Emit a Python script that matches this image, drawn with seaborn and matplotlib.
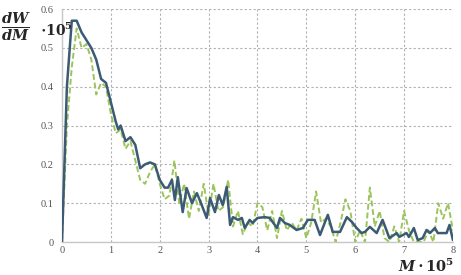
import matplotlib
matplotlib.use("Agg")
import matplotlib.pyplot as plt
import seaborn as sns
import pandas as pd

# Solid (dark) series
solid_x = [0, 0.1, 0.2, 0.3, 0.4, 0.5, 0.6, 0.7, 0.8, 0.9, 1.0, 1.1, 1.15, 1.2, 1.3, 1.4, 1.5,
           1.6, 1.7, 1.8, 1.9, 2.0, 2.1, 2.17, 2.25, 2.31, 2.37, 2.47, 2.55, 2.66, 2.76, 2.86,
           2.96, 3.03, 3.13, 3.21, 3.29, 3.37, 3.44, 3.5, 3.6, 3.68, 3.74, 3.84, 3.9, 4.0, 4.15,
           4.25, 4.4, 4.46, 4.56, 4.66, 4.8, 4.93, 5.03, 5.17, 5.28, 5.44, 5.54, 5.69, 5.83,
           5.93, 6.03, 6.13, 6.2, 6.3, 6.44, 6.56, 6.7, 6.85, 6.9, 7.05, 7.1, 7.2, 7.28, 7.38,
           7.46, 7.53, 7.63, 7.69, 7.87, 7.93, 8.0]
solid_y = [0, 0.40, 0.57, 0.57, 0.54, 0.52, 0.50, 0.47, 0.42, 0.41, 0.36, 0.31, 0.29, 0.30,
           0.26, 0.27, 0.25, 0.19, 0.20, 0.205, 0.20, 0.16, 0.14, 0.14, 0.16, 0.108, 0.167,
           0.077, 0.139, 0.10, 0.126, 0.095, 0.062, 0.113, 0.077, 0.121, 0.095, 0.142, 0.044,
           0.064, 0.057, 0.062, 0.036, 0.057, 0.049, 0.062, 0.064, 0.062, 0.036, 0.062, 0.049,
           0.044, 0.031, 0.036, 0.057, 0.057, 0.018, 0.07, 0.026, 0.026, 0.064, 0.052, 0.036,
           0.023, 0.026, 0.039, 0.023, 0.057, 0.01, 0.023, 0.013, 0.023, 0.013, 0.036, 0.005,
           0.01, 0.031, 0.023, 0.036, 0.023, 0.023, 0.044, 0.005]

# Dashed (green) series
dash_x = [round(i * 0.1, 1) for i in range(81)]
dash_y = [0, 0.30, 0.45, 0.55, 0.50, 0.51, 0.47, 0.38, 0.41, 0.40, 0.33, 0.28, 0.29, 0.24,
          0.26, 0.21, 0.16, 0.15, 0.18, 0.20, 0.15, 0.11, 0.12, 0.21, 0.10, 0.15, 0.06, 0.13,
          0.08, 0.15, 0.07, 0.15, 0.08, 0.09, 0.16, 0.04, 0.08, 0.02, 0.05, 0.04, 0.10, 0.09,
          0.03, 0.08, 0.01, 0.08, 0.03, 0.05, 0.03, 0.06, 0.01, 0.05, 0.13, 0.05, 0.06, 0.04,
          0.0, 0.05, 0.11, 0.08, 0.0, 0.03, 0.0, 0.14, 0.04, 0.08, 0.01, 0.0, 0.04, 0.0, 0.08,
          0.03, 0.0, 0.0, 0.0, 0.03, 0.0, 0.10, 0.06, 0.10, 0.03]

x_ticks = [0, 1, 2, 3, 4, 5, 6, 7, 8]
y_ticks = [0, 0.1, 0.2, 0.3, 0.4, 0.5, 0.6]
y_tick_labels = ["0", "0.1", "0.2", "0.3", "0.4", "0.5", "0.6"]

sns.set_style("white")
plt.rcParams["font.family"] = ["Liberation Serif", "DejaVu Serif"]
plt.rcParams["mathtext.fontset"] = "dejavuserif"

fig = plt.figure(figsize=(4.61, 2.75), dpi=100)
ax = fig.add_axes([0.1345, 0.12, 0.848, 0.847])

df_s = pd.DataFrame({"x": solid_x, "y": solid_y})
df_d = pd.DataFrame({"x": dash_x, "y": dash_y})

sns.lineplot(data=df_d, x="x", y="y", ax=ax, color="#9cc45c", linewidth=1.4,
             linestyle=(0, (3, 1.5)), zorder=3)
sns.lineplot(data=df_s, x="x", y="y", ax=ax, color="#3b5a74", linewidth=1.8, zorder=4)

ax.set_xlim(0, 8)
ax.set_ylim(0, 0.6)
ax.set_xticks(x_ticks)
ax.set_xticklabels([str(t) for t in x_ticks])
ax.set_yticks(y_ticks)
ax.set_yticklabels(y_tick_labels)
ax.set_xlabel("")
ax.set_ylabel("")
ax.grid(True, color="#b0b0b0", linestyle=(0, (2, 2)), linewidth=0.8)
ax.tick_params(axis="both", labelsize=7.5, colors="#555555", length=0)
ax.tick_params(axis="x", pad=3)
ax.tick_params(axis="y", pad=6)
for s in ["top", "right"]:
    ax.spines[s].set_visible(False)
for s in ["left", "bottom"]:
    ax.spines[s].set_color("#c8c8c8")
    ax.spines[s].set_linewidth(1.0)

fig.text(0.003, 0.905, r"$\frac{\boldsymbol{dW}}{\boldsymbol{dM}}$",
         fontsize=15, ha="left", va="center")
fig.text(0.086, 0.89, r"$\boldsymbol{\cdot}\mathbf{10^5}$",
         fontsize=10, ha="left", va="center")
fig.text(0.985, 0.03, r"$\boldsymbol{M\cdot}\mathbf{10^5}$", fontsize=10.5, ha="right", va="center")

fig.savefig("out.png", dpi=100)
